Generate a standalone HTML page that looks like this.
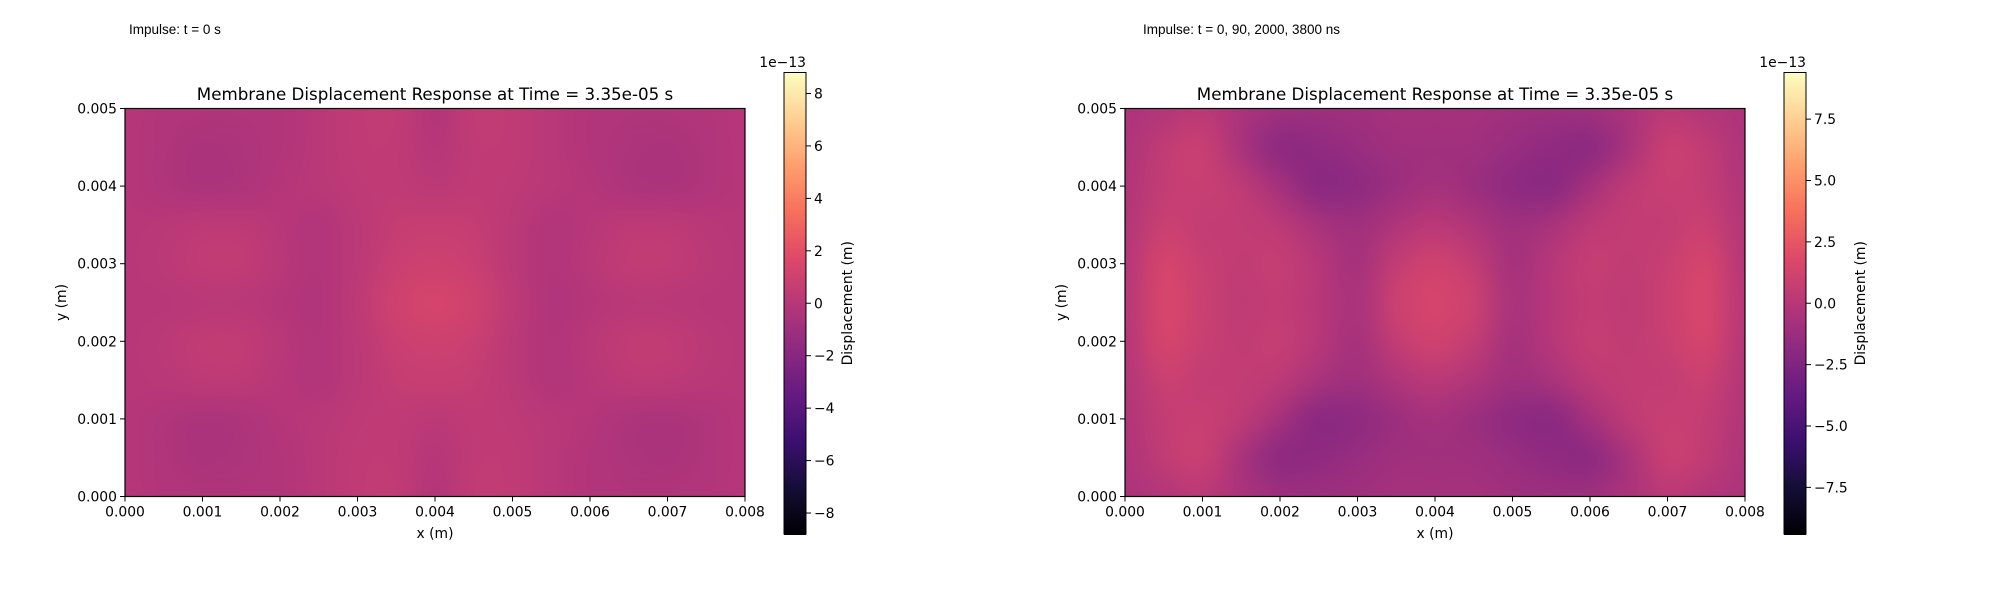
<!DOCTYPE html>
<html><head><meta charset="utf-8"><style>
body{margin:0;background:#fff;width:2000px;height:600px;overflow:hidden;position:relative;font-family:"DejaVu Sans","Liberation Sans",sans-serif}
canvas{position:absolute}
svg{position:absolute;left:0;top:0}
</style></head><body>
<canvas id="hm0"></canvas>
<canvas id="hm1"></canvas>
<canvas id="cb0"></canvas>
<canvas id="cb1"></canvas>
<svg id="ov" width="2000" height="600"></svg>
<script>
// grid x: 0..0.008 step 0.0005 (17 cols); rows y from 0.005 (top) to 0 (11 rows), values in 1e-13 m
const xTicks=["0.000","0.001","0.002","0.003","0.004","0.005","0.006","0.007","0.008"];
const yTicks=["0.000","0.001","0.002","0.003","0.004","0.005"];
const leftCbTicks=[-8,-6,-4,-2,0,2,4,6,8];
const rightCbTicks=[-7.5,-5.0,-2.5,0.0,2.5,5.0,7.5];
const leftVmax=8.8;
const rightVmax=9.4;
const leftGrid=[
[0,-0.2,-0.3,-0.3,-0.2,0.1,0.4,0.5,-0.2,0.5,0.4,0.1,-0.2,-0.3,-0.3,-0.2,0],
[0,-0.3,-0.5,-0.4,-0.2,0.1,0.4,0.4,-0.1,0.4,0.4,0.1,-0.2,-0.4,-0.5,-0.3,0],
[0,-0.3,-0.5,-0.4,-0.1,0.1,0.3,0.4,0.2,0.4,0.3,0.1,-0.1,-0.4,-0.5,-0.3,0],
[0,0.1,0.3,0.3,0,-0.2,0.2,0.6,0.7,0.6,0.2,-0.2,0,0.3,0.3,0.1,0],
[0,0.2,0.5,0.5,0.1,-0.2,0.2,0.8,1.0,0.8,0.2,-0.2,0.1,0.5,0.5,0.2,0],
[0,0,0.1,0.1,-0.1,-0.3,0.3,1.1,1.4,1.1,0.3,-0.3,-0.1,0.1,0.1,0,0],
[0,0.2,0.5,0.5,0.1,-0.2,0.2,0.8,1.0,0.8,0.2,-0.2,0.1,0.5,0.5,0.2,0],
[0,0.1,0.3,0.3,0,-0.2,0.2,0.6,0.7,0.6,0.2,-0.2,0,0.3,0.3,0.1,0],
[0,-0.3,-0.5,-0.4,-0.1,0.1,0.3,0.4,0.2,0.4,0.3,0.1,-0.1,-0.4,-0.5,-0.3,0],
[0,-0.3,-0.5,-0.4,-0.2,0.1,0.4,0.4,-0.1,0.4,0.4,0.1,-0.2,-0.4,-0.5,-0.3,0],
[0,-0.2,-0.3,-0.3,-0.2,0.1,0.4,0.5,-0.2,0.5,0.4,0.1,-0.2,-0.3,-0.3,-0.2,0]];
const rightGrid=[
[-0.5,-0.2,0.2,-0.5,-1.0,-1.1,-1.0,-0.8,-0.8,-0.8,-1.0,-1.1,-1.0,-0.5,0.2,-0.2,-0.5],
[-0.4,0.5,0.9,-0.6,-1.9,-1.7,-1.3,-1.0,-1.0,-1.0,-1.3,-1.7,-1.9,-0.6,0.9,0.5,-0.4],
[-0.3,0.6,0.8,0.4,-0.8,-2.0,-1.8,-1.2,-0.8,-1.2,-1.8,-2.0,-0.8,0.4,0.8,0.6,-0.3],
[-0.2,0.9,0.6,0.6,0.3,-0.6,-1.0,-0.3,0.2,-0.3,-1.0,-0.6,0.3,0.6,0.6,0.9,-0.2],
[-0.1,1.5,0.8,0.5,0.7,0,-0.8,0.6,1.2,0.6,-0.8,0,0.7,0.5,0.8,1.5,-0.1],
[0,1.6,0.9,0.4,0.6,0,-0.6,1.0,1.5,1.0,-0.6,0,0.6,0.4,0.9,1.6,0],
[-0.1,1.5,0.8,0.5,0.7,0,-0.8,0.6,1.2,0.6,-0.8,0,0.7,0.5,0.8,1.5,-0.1],
[-0.2,0.9,0.6,0.6,0.3,-0.6,-1.0,-0.3,0.2,-0.3,-1.0,-0.6,0.3,0.6,0.6,0.9,-0.2],
[-0.3,0.6,0.8,0.4,-0.8,-2.0,-1.8,-1.2,-0.8,-1.2,-1.8,-2.0,-0.8,0.4,0.8,0.6,-0.3],
[-0.4,0.5,0.9,-0.6,-1.9,-1.7,-1.3,-1.0,-1.0,-1.0,-1.3,-1.7,-1.9,-0.6,0.9,0.5,-0.4],
[-0.5,-0.2,0.2,-0.5,-1.0,-1.1,-1.0,-0.8,-0.8,-0.8,-1.0,-1.1,-1.0,-0.5,0.2,-0.2,-0.5]];

const magma=[[0,0,4],[20,14,54],[59,15,112],[100,26,128],[140,41,129],[183,55,121],[222,73,104],[247,112,92],[254,159,109],[254,207,146],[252,253,191]];
function cmap(t){t=Math.max(0,Math.min(1,t));const f=t*10,i=Math.min(9,Math.floor(f)),r=f-i;const a=magma[i],b=magma[i+1];return [0,1,2].map(k=>Math.round(a[k]+(b[k]-a[k])*r));}

const NS="http://www.w3.org/2000/svg";
const ov=document.getElementById('ov');
function el(tag,attrs,txt){const e=document.createElementNS(NS,tag);for(const k in attrs)e.setAttribute(k,attrs[k]);if(txt!==undefined)e.textContent=txt;ov.appendChild(e);return e;}

function panel(ox,grid,vmax,cbTicks,hmId,cbId,note,pfx){
  const X0=ox+125,X1=ox+745,Y0=108.5,Y1=496.5;
  const sx=v=>X0+(v/0.008)*(X1-X0), sy=v=>Y1-(v/0.005)*(Y1-Y0);
  const rows=grid.length, cols=grid[0].length;
  const small=document.createElement('canvas');small.width=cols;small.height=rows;
  const sc=small.getContext('2d');const img=sc.createImageData(cols,rows);
  for(let r=0;r<rows;r++)for(let c=0;c<cols;c++){const col=cmap((grid[r][c]+vmax)/(2*vmax));const p=(r*cols+c)*4;img.data[p]=col[0];img.data[p+1]=col[1];img.data[p+2]=col[2];img.data[p+3]=255;}
  sc.putImageData(img,0,0);
  const hm=document.getElementById(hmId);const W=Math.round(X1-X0),H=Math.round(Y1-Y0);
  hm.width=W;hm.height=H;hm.style.left=X0+'px';hm.style.top=Y0+'px';
  const hc=hm.getContext('2d');hc.imageSmoothingEnabled=true;hc.imageSmoothingQuality='high';
  const cw=W/(cols-1),ch=H/(rows-1);
  hc.drawImage(small,-cw/2,-ch/2,cols*cw,rows*ch);
  el('rect',{x:X0,y:Y0,width:X1-X0,height:Y1-Y0,fill:'none',stroke:'#000','stroke-width':1.2,});
  xTicks.forEach(t=>{const x=sx(parseFloat(t));
    el('line',{x1:x,y1:Y1,x2:x,y2:Y1+5,stroke:'#000','stroke-width':1,});
    el('text',{x:x,y:Y1+20,'font-size':13.9,'text-anchor':'middle',},t);});
  yTicks.forEach(t=>{const y=sy(parseFloat(t));
    el('line',{x1:X0-5,y1:y,x2:X0,y2:y,stroke:'#000','stroke-width':1,});
    el('text',{x:X0-8,y:y+5,'font-size':13.9,'text-anchor':'end',},t);});
  el('text',{x:(X0+X1)/2,y:538,'font-size':13.9,'text-anchor':'middle',},'x (m)');
  el('text',{x:0,y:0,'font-size':13.9,'text-anchor':'middle',transform:`translate(${ox+66},${(Y0+Y1)/2}) rotate(-90)`,},'y (m)');
  el('text',{x:(X0+X1)/2,y:100,'font-size':16.7,'text-anchor':'middle',},'Membrane Displacement Response at Time = 3.35e-05 s');
  el('text',{x:ox+(pfx==='left'?129:143),y:34,'font-size':13.5,'font-family':'Liberation Sans, sans-serif',},note);
  const C0=ox+784,C1=ox+806,CT=72.5,CB=534;
  const cb=document.getElementById(cbId);cb.width=C1-C0;cb.height=Math.round(CB-CT);cb.style.left=C0+'px';cb.style.top=CT+'px';
  const cc=cb.getContext('2d');for(let i=0;i<cb.height;i++){const col=cmap(1-i/(cb.height-1));cc.fillStyle=`rgb(${col})`;cc.fillRect(0,i,cb.width,1);}
  el('rect',{x:C0,y:CT,width:C1-C0,height:CB-CT,fill:'none',stroke:'#000','stroke-width':1,});
  const cy=v=>CB-((v+vmax)/(2*vmax))*(CB-CT);
  cbTicks.forEach(v=>{const y=cy(v);
    el('line',{x1:C1,y1:y,x2:C1+5,y2:y,stroke:'#000','stroke-width':1,});
    const lbl=(cbTicks===rightCbTicks?v.toFixed(1):String(v)).replace('-','\u2212');
    el('text',{x:C1+8,y:y+5,'font-size':13.9,},lbl);});
  el('text',{x:C1,y:67,'font-size':13.9,'text-anchor':'end',},'1e\u221213');
  el('text',{x:0,y:0,'font-size':13.9,'text-anchor':'middle',transform:`translate(${ox+(pfx==='left'?852:865)},${(CT+CB)/2}) rotate(-90)`,},'Displacement (m)');
}
panel(0,leftGrid,leftVmax,leftCbTicks,'hm0','cb0','Impulse: t = 0 s','left');
panel(1000,rightGrid,rightVmax,rightCbTicks,'hm1','cb1','Impulse: t = 0, 90, 2000, 3800 ns','right');
</script>
</body></html>
